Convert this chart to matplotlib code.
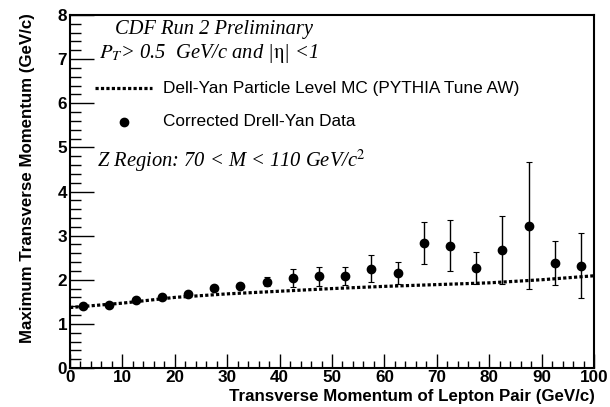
import numpy as np
import matplotlib.pyplot as plt
from matplotlib.ticker import MultipleLocator

# Corrected Drell-Yan data (bin centres, values, symmetric errors)
pt_bins = [2.5, 7.5, 12.5, 17.5, 22.5, 27.5, 32.5, 37.5, 42.5, 47.5,
           52.5, 57.5, 62.5, 67.5, 72.5, 77.5, 82.5, 87.5, 92.5, 97.5]
max_pt = [1.40, 1.42, 1.53, 1.62, 1.68, 1.81, 1.85, 1.96, 2.04, 2.08,
          2.08, 2.25, 2.15, 2.83, 2.77, 2.27, 2.67, 3.22, 2.38, 2.32]
max_pt_err = [0.03, 0.03, 0.04, 0.05, 0.05, 0.05, 0.07, 0.10, 0.20, 0.22,
              0.20, 0.30, 0.25, 0.47, 0.58, 0.37, 0.77, 1.44, 0.49, 0.73]

# PYTHIA Tune AW particle level curve
mc_pt = [0, 10, 20, 30, 40, 50, 60, 70, 80, 90, 100]
mc_max_pt = [1.37, 1.47, 1.60, 1.68, 1.74, 1.80, 1.85, 1.89, 1.93, 2.00, 2.09]

plt.rcParams["mathtext.fontset"] = "stix"

bold = {"family": "Liberation Sans", "weight": "bold"}
serif_it = {"family": "Liberation Serif", "style": "italic", "fontsize": 14.8}
dash = (0, (1.0, 0.7))

fig = plt.figure(figsize=(6.1, 4.07), dpi=100)
ax = fig.add_axes([70 / 610, 39 / 407, 524 / 610, 353 / 407])

ax.plot(mc_pt, mc_max_pt, color="black", linestyle=dash, linewidth=2.3)
ax.errorbar(pt_bins, max_pt, yerr=max_pt_err, fmt="o", color="black",
            markersize=6, elinewidth=1.0, capsize=2, capthick=0.8)

ax.set_xlim(0, 100)
ax.set_ylim(0, 8)
ax.xaxis.set_major_locator(MultipleLocator(10))
ax.xaxis.set_minor_locator(MultipleLocator(2))
ax.yaxis.set_major_locator(MultipleLocator(1))
ax.yaxis.set_minor_locator(MultipleLocator(0.2))
ax.tick_params(axis="x", which="major", direction="in", length=10, width=1, pad=1.5)
ax.tick_params(axis="x", which="minor", direction="in", length=5, width=1)
ax.tick_params(axis="y", which="major", direction="in", length=17, width=1, pad=2)
ax.tick_params(axis="y", which="minor", direction="in", length=8, width=1)
for sp in ax.spines.values():
    sp.set_linewidth(1.5)

for lab in ax.get_xticklabels() + ax.get_yticklabels():
    lab.set_fontfamily("Liberation Sans")
    lab.set_fontweight("bold")
    lab.set_fontsize(12.3)

ax.set_xlabel("Transverse Momentum of Lepton Pair (GeV/c)", fontsize=12.2,
              loc="right", **bold)
ax.set_ylabel("Maximum Transverse Momentum (GeV/c)", fontsize=12.2,
              loc="top", **bold)
ax.xaxis.set_label_coords(1.002, -0.06)
ax.yaxis.set_label_coords(-0.067, 1.005)

ax.text(0.086, 0.946, "CDF Run 2 Preliminary", transform=ax.transAxes,
        va="baseline", **serif_it)
ax.text(0.055, 0.878, r"$P_T$> 0.5  GeV/c and |$\mathrm{\eta}$| <1",
        transform=ax.transAxes, va="baseline", **serif_it)
ax.text(0.052, 0.569, r"Z Region: 70 < M < 110 GeV/c$^2$",
        transform=ax.transAxes, va="baseline", **serif_it)

# legend drawn by hand in axes coordinates
ax.plot([0.048, 0.156], [0.793, 0.793], transform=ax.transAxes, color="black",
        linestyle=dash, linewidth=2.3)
ax.text(0.177, 0.793, "Dell-Yan Particle Level MC (PYTHIA Tune AW)",
        transform=ax.transAxes, fontsize=12.4, va="center", family="Liberation Sans")
ax.plot([0.103], [0.697], "o", transform=ax.transAxes, color="black", markersize=6)
ax.text(0.177, 0.697, "Corrected Drell-Yan Data",
        transform=ax.transAxes, fontsize=12.4, va="center", family="Liberation Sans")

fig.savefig("out.png", dpi=100)
